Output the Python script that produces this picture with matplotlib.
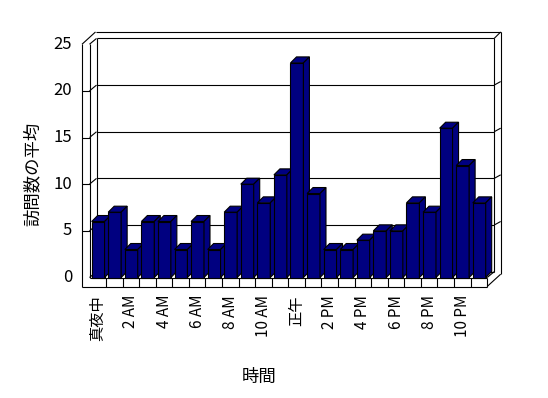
import matplotlib
matplotlib.use("Agg")
import matplotlib.pyplot as plt
from matplotlib.patches import Polygon

plt.rcParams['font.family'] = ['Noto Sans CJK JP', 'DejaVu Sans']

# ---- data ----
hours = list(range(24))
visits = [6, 7, 3, 6, 6, 3, 6, 3, 7, 10, 8, 11, 23, 9, 3, 3, 4, 5, 5, 8, 7, 16, 12, 8]
tick_labels = ["真夜中", "2 AM", "4 AM", "6 AM", "8 AM", "10 AM",
               "正午", "2 PM", "4 PM", "6 PM", "8 PM", "10 PM"]
y_ticks = [0, 5, 10, 15, 20, 25]
x_title = "時間"
y_title = "訪問数の平均"

# ---- layout / style ----
W, H, DPI = 548, 398, 100
PXC, PXV = 16.57, 9.33          # pixels per category / per value unit
X0PX, Y0PX = 89.5, 277.5        # front-left corner of the floor (pixels)
DX, DY = 7 / PXC, 5.8 / PXV     # depth of chart (front plane -> back wall)
BX, BY = 6.5 / PXC, 6.5 / PXV   # back wall thickness
TX, TY = 7.5 / PXC, 9 / PXV     # left wall / floor thickness
BDX, BDY = 6 / PXC, 6 / PXV     # bar depth
BW, BOFF = 0.78, -0.37          # bar width and left offset
NAVY = "#000080"
LW = 0.8

fig = plt.figure(figsize=(W / DPI, H / DPI), dpi=DPI)
ax = fig.add_axes([0, 0, 1, 1])
ax.set_xlim(-X0PX / PXC - 0.5, (W - X0PX) / PXC - 0.5)
ax.set_ylim((Y0PX - H) / PXV, Y0PX / PXV)
ax.axis("off")

L, R = -0.5, len(hours) - 0.5
TOP = y_ticks[-1]


def seg(p, q, z=1):
    ax.plot([p[0], q[0]], [p[1], q[1]], color="black", lw=LW, zorder=z,
            solid_capstyle="butt")


def B(c, v):
    return (c + DX, v + DY)


# back wall
for v in y_ticks:
    seg(B(L, v), B(R, v))
seg(B(L, 0), B(L, TOP))
seg(B(R, 0), B(R, TOP))
# back wall thickness
otop = TOP + DY + BY
seg((L - TX + DX + BX, otop), (R + DX + BX, otop))
seg(B(R, TOP), (R + DX + BX, otop))
seg((R + DX + BX, otop), (R + DX + BX, -TY + DY + BY))
for v in y_ticks[1:-1]:
    seg(B(R, v), (R + DX + BX, v + DY + BY * 0.55))
# left wall
seg((L - TX, TOP), (L - TX, -TY))
seg((L, TOP), (L, 0))
seg((L - TX, TOP), (L - TX + DX + BX, otop))
for v in y_ticks:
    seg((L, v), B(L, v))
for v in y_ticks[1:-1]:
    seg((L - TX, v), (L, v))
# floor
seg((L, 0), (R, 0))
seg((L - TX, -TY), (R, -TY))
seg((R, 0), (R, -TY))
seg((R, 0), B(R, 0))
seg((R, -TY), (R + DX + BX, -TY + DY + BY))
for k in range(1, len(hours)):
    seg((L + k, 0), (L + k, -TY))

# bars
for i, (h, v) in enumerate(zip(hours, visits)):
    z = 3 + i
    x0 = h + BOFF
    ax.bar(x0, v, width=BW, align="edge", color=NAVY, edgecolor="black",
           linewidth=LW, zorder=z)
    top = [(x0, v), (x0 + BW, v), (x0 + BW + BDX, v + BDY), (x0 + BDX, v + BDY)]
    side = [(x0 + BW, 0), (x0 + BW + BDX, BDY), (x0 + BW + BDX, v + BDY), (x0 + BW, v)]
    for poly in (top, side):
        ax.add_patch(Polygon(poly, closed=True, facecolor=NAVY, edgecolor="black",
                             linewidth=LW, zorder=z))

# tick labels
for v in y_ticks:
    ax.text(L - (X0PX - 72) / PXC, v, str(v), ha="right", va="center",
            fontsize=12, color="black")
for k, lab in enumerate(tick_labels):
    ax.text(hours[2 * k], -(295 - Y0PX) / PXV, lab, rotation=90, ha="center",
            va="top", fontsize=11, color="black")

fig.text(33 / W, 1 - 174 / H, y_title, rotation=90, ha="center", va="center",
         fontsize=12.5)
fig.text(259 / W, 1 - 377 / H, x_title, ha="center", va="center", fontsize=12.5)

fig.savefig("out.png", dpi=DPI, facecolor="white")
